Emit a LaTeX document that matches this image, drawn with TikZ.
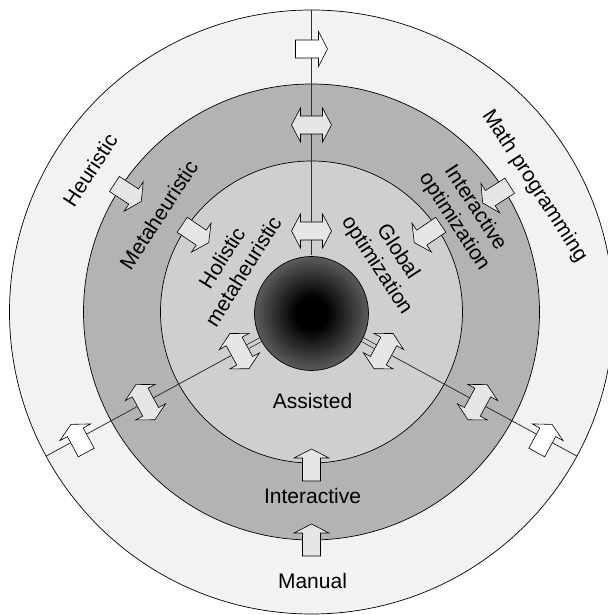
\documentclass[tikz,border=0pt]{standalone}
\usepackage{fontspec}
\setmainfont{Liberation Sans}
\definecolor{ringA}{HTML}{F2F2F2}
\definecolor{ringB}{HTML}{B3B3B3}
\definecolor{ringC}{HTML}{CFCFCF}
\definecolor{afill}{HTML}{E6E6E6}
\definecolor{spokec}{HTML}{303030}
\pgfdeclareradialshading{coreshade}{\pgfpoint{0bp}{0bp}}{color(0bp)=(black); color(7bp)=(black); color(30bp)=(black!54); color(50bp)=(black!50)}
\tikzset{
  ring/.style={draw=black, line width=0.7pt},
  spoke/.style={draw=spokec, line width=0.8pt},
  lab/.style={font=\fontsize{21}{25}\selectfont, align=center, inner sep=0pt},
  sarrow/.pic={\draw[line width=0.6pt, fill=#1, line join=miter] (-16,-9) -- (7,-9) -- (7,-17.5) -- (16,0) -- (7,17.5) -- (7,9) -- (-16,9) -- cycle;},
  darrow/.pic={\draw[line width=0.6pt, fill=#1, line join=miter] (-20,0) -- (-11,17) -- (-11,9) -- (11,9) -- (11,17) -- (20,0) -- (11,-17) -- (11,-9) -- (-11,-9) -- (-11,-17) -- cycle;}
}
\begin{document}
\begin{tikzpicture}[x=1pt,y=1pt]
\useasboundingbox (-311.5,-303) rectangle (295.5,312);
% rings
\path[ring, fill=ringA] (0,0) circle[radius=302];
\path[ring, fill=ringB] (0,0) circle[radius=228];
\path[ring, fill=ringC] (0,0) circle[radius=151];
% spokes
\coordinate (s1a) at (90:57);    \coordinate (s1b) at (90:302);
\coordinate (s2a) at (208.5:57); \coordinate (s2b) at (208.5:302);
\coordinate (s3a) at (331.5:57); \coordinate (s3b) at (331.5:302);
\coordinate (s2c) at (208.5:74); \coordinate (s3c) at (331.5:74);
\draw[spoke] (s1a) -- (s1b);
\draw[spoke] (s2a) -- (s2b);
\draw[spoke] (s3a) -- (s3b);
\draw[draw=black, line width=0.6pt, double=ringC, double distance=3.5pt] (s2a) -- (s2c);
\draw[draw=black, line width=0.6pt, double=ringC, double distance=3.5pt] (s3a) -- (s3c);
% core
\shade[shading=coreshade] (0,-1.5) circle[radius=57];
\draw[line width=0.7pt] (0,-1.5) circle[radius=57];
% spoke arrows
\pic[rotate=0] at (90:263) {sarrow=white};
\pic[rotate=0] at (90:187) {darrow=afill};
\pic[rotate=0] at (90:81) {darrow=afill};
\pic[rotate=118.5] at (208.5:265) {sarrow=white};
\pic[rotate=118.5] at (208.5:189) {darrow=afill};
\pic[rotate=118.5] at (208.5:82) {darrow=afill};
\pic[rotate=61.5] at (331.5:265) {sarrow=white};
\pic[rotate=61.5] at (331.5:189) {darrow=afill};
\pic[rotate=61.5] at (331.5:82) {darrow=afill};
% radial arrows
\pic[rotate=327] at (147:219) {sarrow=afill};
\pic[rotate=326] at (146:140) {sarrow=afill};
\pic[rotate=212.5] at (32.5:219) {sarrow=afill};
\pic[rotate=214] at (34:140) {sarrow=afill};
\pic[rotate=90] at (270:228) {sarrow=afill};
\pic[rotate=90] at (270:153) {sarrow=afill};
% labels
\node[lab, rotate=57] (heur) at (-221.5,142) {Heuristic};
\node[lab, rotate=57] (meta) at (-152.8,97.2) {Metaheuristic};
\node[lab, rotate=58] (holi) at (-79.1,47.5) {Holistic\\metaheuristic};
\node[lab, rotate=-57] (math) at (222.8,126) {Math programming};
\node[lab, rotate=-57] (inop) at (153,97) {Interactive\\optimization};
\node[lab, rotate=-57] (glob) at (75.5,53) {Global\\optimization};
\node[lab] (assi) at (1,-88.7) {Assisted};
\node[lab] (inte) at (1,-183.5) {Interactive};
\node[lab] (manu) at (1,-269) {Manual};
\end{tikzpicture}
\end{document}
